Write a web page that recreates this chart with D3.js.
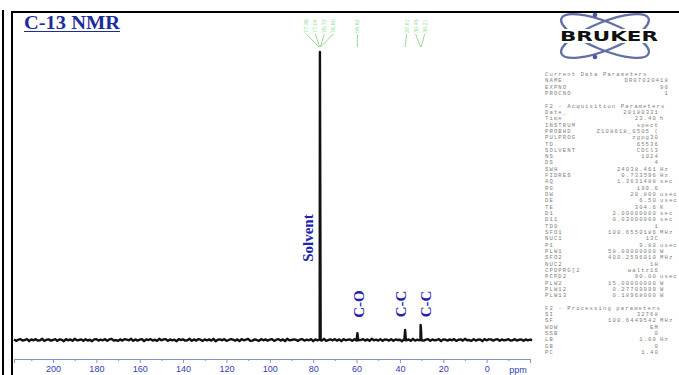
<!DOCTYPE html>
<html>
<head>
<meta charset="utf-8">
<script src="https://cdn.jsdelivr.net/npm/d3@7"></script>
<style>
  html, body { margin: 0; padding: 0; background: #fff; }
  svg { display: block; }
</style>
</head>
<body>
<div id="chart"></div>
<script>
// C-13 NMR spectrum, Bruker style printout

// baseline noise, one value per ppm starting at 218 ppm (intensity units, solvent = 100)
const noiseStart = 218;
const noiseStep = 1;
const noise = [
  0.2, -0.3, 0.1, 0.3, -0.2, 0.0, 0.3, -0.4, 0.2, -0.1,
  0.3, -0.2, -0.1, 0.4, -0.3, 0.1, 0.2, -0.2, 0.0, 0.3,
  -0.3, 0.2, 0.1, -0.4, 0.3, -0.1, 0.2, -0.3, 0.4, -0.1,
  0.0, 0.2, -0.3, 0.3, -0.2, 0.1, -0.4, 0.2, 0.3, -0.2,
  0.1, -0.1, 0.3, -0.3, 0.2, 0.4, -0.2, 0.0, -0.3, 0.2,
  -0.2, 0.3, 0.1, -0.1, 0.4, -0.3, 0.2, -0.2, 0.1, 0.3,
  -0.4, 0.2, 0.0, 0.3, -0.2, 0.1, -0.3, 0.4, -0.1, 0.2,
  0.3, -0.3, 0.2, -0.1, 0.1, -0.4, 0.3, 0.0, 0.2, -0.2,
  -0.1, 0.4, -0.3, 0.2, -0.2, 0.3, 0.1, -0.3, 0.2, -0.1,
  0.2, -0.2, 0.4, -0.4, 0.1, 0.2, -0.1, 0.3, -0.3, 0.0,
  0.3, 0.1, -0.2, 0.2, -0.4, 0.3, -0.1, 0.1, 0.4, -0.3,
  -0.2, 0.2, 0.0, -0.3, 0.3, -0.1, 0.2, -0.2, 0.1, 0.3,
  -0.3, 0.1, 0.3, -0.2, 0.2, -0.4, 0.4, -0.1, 0.0, 0.2,
  0.1, -0.3, 0.2, 0.3, -0.2, 0.1, -0.1, 0.3, -0.4, 0.2,
  -0.1, 0.2, -0.2, 0.4, -0.3, 0.0, 0.2, -0.1, 0.3, -0.2,
  0.2, -0.4, 0.3, -0.1, 0.1, 0.2, -0.3, 0.3, -0.2, 0.1,
  0.0, 0.3, -0.2, 0.2, -0.3, 0.4, -0.1, 0.1, -0.2, 0.3,
  -0.3, 0.2, 0.1, -0.2, 0.3, -0.3, 0.2, 0.0, 0.1, -0.4,
  0.3, -0.1, 0.2, -0.3, 0.4, -0.2, 0.1, -0.1, 0.2, -0.2,
  0.1, 0.3, -0.3, 0.2, -0.1, 0.0, 0.3, -0.4, 0.2, 0.1,
  -0.2, 0.2, -0.1, 0.3, -0.3, 0.1, 0.2, -0.2, 0.4, -0.1,
  0.0, -0.3, 0.3, -0.2, 0.1, 0.2, -0.4, 0.3, -0.1, 0.2,
  0.2, -0.2, 0.1, 0.3, -0.3, 0.2, -0.1, 0.0, 0.3, -0.2,
  -0.1, 0.3, -0.2, 0.1, 0.2, -0.3, 0.2, -0.1, 0.1, 0.0
];

// peaks
const peakPpm = [76.9, 59.6, 37.6, 30.45, 30.2];
const peakHeight = [100, 2.4, 3.5, 5.2, 2.6];

// assignment labels (blue)
const labelText = ['Solvent', 'C-O', 'C-C', 'C-C'];
const labelPpm = [82.3, 59.0, 39.6, 28.1];
const labelLevel = [35.4, 12.5, 12.5, 12.5];

// peak picking labels (green), one group per peak cluster
const pickGroups = [
  [77.36, 77.04, 76.72, 76.60],
  [59.62],
  [37.61, 30.45, 30.21]
];

// axis
const majorTicks = [200, 180, 160, 140, 120, 100, 80, 60, 40, 20, 0];
const minorTicks = [210, 190, 170, 150, 130, 110, 90, 70, 50, 30, 10, -10];

// acquisition / processing parameters [label, value, unit]
const currentParams = [
  ['NAME', 'DR07020418', ''],
  ['EXPNO', '90', ''],
  ['PROCNO', '1', '']
];
const acqParams = [
  ['Date_', '20180331', ''],
  ['Time', '23.40', 'h'],
  ['INSTRUM', 'spect', ''],
  ['PROBHD', 'Z108618_0505 (', ''],
  ['PULPROG', 'zgpg30', ''],
  ['TD', '65536', ''],
  ['SOLVENT', 'CDCl3', ''],
  ['NS', '1024', ''],
  ['DS', '4', ''],
  ['SWH', '24038.461', 'Hz'],
  ['FIDRES', '0.733596', 'Hz'],
  ['AQ', '1.3631488', 'sec'],
  ['RG', '199.6', ''],
  ['DW', '20.800', 'usec'],
  ['DE', '6.50', 'usec'],
  ['TE', '304.6', 'K'],
  ['D1', '2.00000000', 'sec'],
  ['D11', '0.03000000', 'sec'],
  ['TD0', '1', ''],
  ['SFO1', '100.6550186', 'MHz'],
  ['NUC1', '13C', ''],
  ['P1', '9.80', 'usec'],
  ['PLW1', '58.00000000', 'W'],
  ['SFO2', '400.2596010', 'MHz'],
  ['NUC2', '1H', ''],
  ['CPDPRG[2', 'waltz16', ''],
  ['PCPD2', '90.00', 'usec'],
  ['PLW2', '15.00000000', 'W'],
  ['PLW12', '0.27709999', 'W'],
  ['PLW13', '0.18968000', 'W']
];
const procParams = [
  ['SI', '32768', ''],
  ['SF', '100.6449542', 'MHz'],
  ['WDW', 'EM', ''],
  ['SSB', '0', ''],
  ['LB', '1.00', 'Hz'],
  ['GB', '0', ''],
  ['PC', '1.40', '']
];

const W = 679, H = 375;
const svg = d3.select('#chart').append('svg')
  .attr('width', W).attr('height', H);

// frame lines
svg.append('line').attr('x1', 3).attr('y1', 10).attr('x2', 3).attr('y2', H)
  .attr('stroke', '#000').attr('stroke-width', 2);
svg.append('line').attr('x1', 12).attr('y1', 11).attr('x2', 12).attr('y2', H)
  .attr('stroke', '#000').attr('stroke-width', 2);
svg.append('line').attr('x1', 11).attr('y1', 12).attr('x2', W).attr('y2', 12)
  .attr('stroke', '#000').attr('stroke-width', 2);

// scales
const x = d3.scaleLinear().domain([218, -20]).range([14, 530]);
const y = d3.scaleLinear().domain([0, 100]).range([340, 52]);

// spectrum points
const pts = noise.map((v, i) => ({ ppm: noiseStart - i * noiseStep, v }));
peakPpm.forEach((p, i) => {
  pts.push({ ppm: p + 0.35, v: 0.1 });
  pts.push({ ppm: p, v: peakHeight[i] });
  pts.push({ ppm: p - 0.35, v: -0.1 });
});
pts.sort((a, b) => b.ppm - a.ppm);

const line = d3.line().x(d => x(d.ppm)).y(d => y(d.v));
svg.append('path')
  .datum(pts)
  .attr('d', line)
  .attr('fill', 'none')
  .attr('stroke', '#111')
  .attr('stroke-width', 2.4)
  .attr('stroke-linejoin', 'round');

// x axis
const axisY = 359;
const axisColor = '#8393c4';
const gMinor = svg.append('g')
  .attr('transform', `translate(0,${axisY})`)
  .call(d3.axisBottom(x).tickValues(minorTicks).tickSize(2).tickFormat(''));
gMinor.selectAll('path, line').attr('stroke', axisColor);

const gAxis = svg.append('g')
  .attr('transform', `translate(0,${axisY})`)
  .call(d3.axisBottom(x).tickValues(majorTicks).tickSize(4).tickPadding(3));
gAxis.selectAll('path, line').attr('stroke', axisColor);
gAxis.selectAll('text')
  .attr('fill', '#2f40b8')
  .style('font-family', '"Liberation Sans", Arial, sans-serif')
  .style('font-size', '9px');

svg.append('text')
  .attr('x', x(-14.5))
  .attr('y', 372.5)
  .attr('text-anchor', 'middle')
  .attr('fill', '#2f40b8')
  .style('font-family', '"Liberation Sans", Arial, sans-serif')
  .style('font-size', '9px')
  .text('ppm');

// peak picking labels
const pickColor = '#93dc93';
const pickSpacing = 9;
pickGroups.forEach(group => {
  const cx = d3.mean(group, p => x(p));
  group.forEach((p, i) => {
    const lx = cx + (i - (group.length - 1) / 2) * pickSpacing;
    svg.append('text')
      .attr('transform', `translate(${lx},33) rotate(-90)`)
      .attr('dy', '0.35em')
      .attr('fill', pickColor)
      .style('font-family', '"Liberation Sans", Arial, sans-serif')
      .style('font-size', '5.5px')
      .text(p.toFixed(2));
    svg.append('line')
      .attr('x1', lx).attr('y1', 34)
      .attr('x2', x(p)).attr('y2', 47)
      .attr('stroke', pickColor)
      .attr('stroke-width', 1);
  });
});

// assignment labels
labelText.forEach((t, i) => {
  svg.append('text')
    .attr('transform', `translate(${x(labelPpm[i])},${y(labelLevel[i])}) rotate(-90)`)
    .attr('text-anchor', 'middle')
    .attr('dy', '0.35em')
    .attr('fill', '#1f24b0')
    .style('font-family', '"Liberation Serif", "Times New Roman", serif')
    .style('font-weight', 'bold')
    .style('font-size', '15px')
    .text(t);
});

// title
svg.append('text')
  .attr('x', 24).attr('y', 29)
  .attr('fill', '#1c2c99')
  .attr('textLength', 96)
  .attr('lengthAdjust', 'spacingAndGlyphs')
  .style('font-family', '"Liberation Serif", "Times New Roman", serif')
  .style('font-weight', 'bold')
  .style('font-size', '18px')
  .text('C-13 NMR');
svg.append('line')
  .attr('x1', 24).attr('x2', 120).attr('y1', 31.5).attr('y2', 31.5)
  .attr('stroke', '#1c2c99').attr('stroke-width', 1.2);

// Bruker logo
const logo = svg.append('g').attr('transform', 'translate(605,36)');
[22, -22].forEach(a => {
  logo.append('ellipse')
    .attr('rx', 47).attr('ry', 14)
    .attr('transform', `rotate(${a})`)
    .attr('fill', 'none')
    .attr('stroke', '#6270a8')
    .attr('stroke-width', 2.3);
});
[[-10, -21], [-10, 21], [44, 4]].forEach(([dx, dy]) => {
  logo.append('circle').attr('cx', dx).attr('cy', dy).attr('r', 2.3).attr('fill', '#4a58a0');
});
logo.append('rect')
  .attr('x', -46).attr('y', -7).attr('width', 92).attr('height', 14)
  .attr('fill', '#fff');
logo.append('text')
  .attr('x', -45).attr('y', 5)
  .attr('textLength', 98)
  .attr('lengthAdjust', 'spacingAndGlyphs')
  .attr('fill', '#111')
  .style('font-family', '"DejaVu Sans", Arial, sans-serif')
  .style('font-weight', 'bold')
  .style('font-size', '14px')
  .text('BRUKER');

// parameter block
const rows = [];
rows.push({ head: 'Current Data Parameters' });
currentParams.forEach(r => rows.push({ r, right: 669 }));
rows.push({ blank: true });
rows.push({ head: 'F2 - Acquisition Parameters' });
acqParams.forEach(r => rows.push({ r, right: 659 }));
rows.push({ blank: true });
rows.push({ head: 'F2 - Processing parameters' });
procParams.forEach(r => rows.push({ r, right: 659 }));

const pFont = '"Liberation Mono", "DejaVu Sans Mono", monospace';
const pColor = '#808080';
const pg = svg.append('g')
  .style('font-family', pFont)
  .style('font-size', '5.6px')
  .style('letter-spacing', '1.1px')
  .attr('fill', pColor);
rows.forEach((row, i) => {
  const ty = 76 + i * 6.32;
  if (row.blank) return;
  if (row.head) {
    pg.append('text').attr('x', 545).attr('y', ty).text(row.head);
    return;
  }
  const [lab, val, unit] = row.r;
  pg.append('text').attr('x', 545).attr('y', ty).text(lab);
  if (unit) {
    pg.append('text').attr('x', 657).attr('y', ty).attr('text-anchor', 'end').text(val);
    pg.append('text').attr('x', 660).attr('y', ty).text(unit);
  } else {
    pg.append('text').attr('x', row.right).attr('y', ty).attr('text-anchor', 'end').text(val);
  }
});
</script>
</body>
</html>
